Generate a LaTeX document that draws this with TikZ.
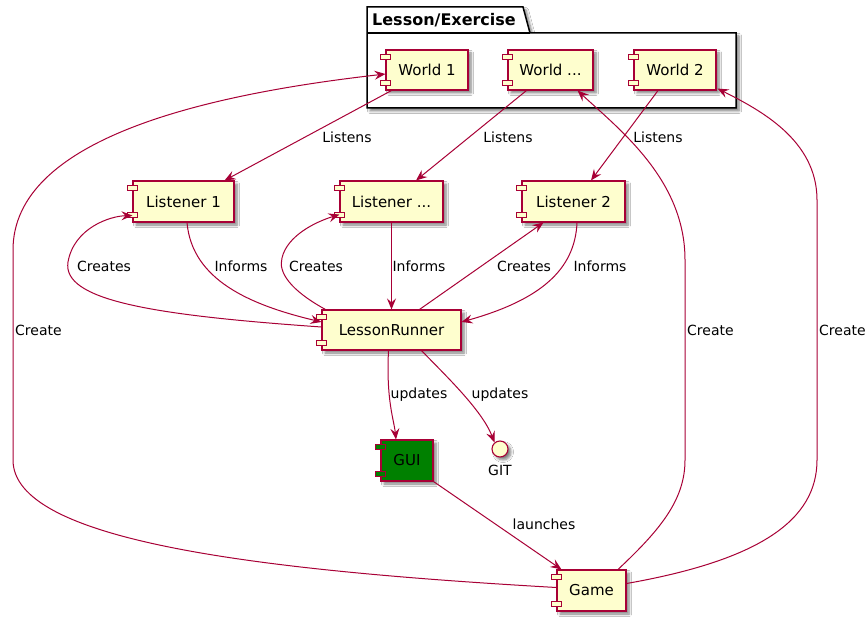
\documentclass[tikz,border=0pt]{standalone}
\usepackage{fontspec}
\setmainfont{DejaVu Sans}
\usetikzlibrary{arrows.meta,calc,shadows.blur}
\definecolor{umlred}{HTML}{A80036}
\definecolor{umlfill}{HTML}{FEFECE}
\definecolor{guigreen}{HTML}{008000}
\begin{document}
\begin{tikzpicture}[x=1pt,y=-1pt,
  softshadow/.style={blur shadow={shadow xshift=3pt,shadow yshift=-3pt,shadow blur steps=6,shadow blur radius=2.5pt,shadow opacity=50}},
  comp/.style={draw=umlred,fill=umlfill,line width=1.1pt,minimum height=40pt,inner sep=0pt,
    font=\fontsize{15}{18}\selectfont,softshadow},
  lug/.style={draw=umlred,line width=1.1pt},
  conn/.style={draw=umlred,line width=1pt,-{Stealth[length=11pt,width=9pt,inset=4pt]}},
  lbl/.style={font=\fontsize{14}{16}\selectfont,inner sep=0pt},
  pkg/.style={draw=black,line width=1.5pt,fill=white,softshadow}
]
\useasboundingbox (0,0) rectangle (866,617);
\fill[white] (0,0) rectangle (866,617);

% package frame with its tab
\path[pkg] (367,7) -- (523,7) -- (530,33) -- (736,33) -- (736,108) -- (367,108) -- cycle;
\draw[black,line width=1.5pt] (367,33) -- (530,33);
\node[font=\bfseries\fontsize{16}{19}\selectfont,anchor=base west,inner sep=0pt] (pkgtitle) at (372,25.5) {Lesson/Exercise};

% components
\node[comp,minimum width=82pt] (w1) at (427,70) {World 1};
\node[comp,minimum width=85pt] (wd) at (550.5,70) {World ...};
\node[comp,minimum width=82pt] (w2) at (675,70) {World 2};
\node[comp,minimum width=101pt,minimum height=41pt] (l1) at (183.5,201.5) {Listener 1};
\node[comp,minimum width=103pt,minimum height=41pt] (ld) at (391.5,201.5) {Listener ...};
\node[comp,minimum width=103pt,minimum height=41pt] (l2) at (573.5,201.5) {Listener 2};
\node[comp,minimum width=139pt] (lr) at (391.5,330) {LessonRunner};
\node[comp,minimum width=52pt,minimum height=41pt,fill=guigreen] (gui) at (407,460.5) {GUI};
\node[comp,minimum width=69pt,minimum height=41pt] (game) at (591.5,590.5) {Game};

% the two small tabs on the left side of every component
\foreach \n/\c in {w1/umlfill,wd/umlfill,w2/umlfill,l1/umlfill,ld/umlfill,l2/umlfill,lr/umlfill,gui/guigreen,game/umlfill}{
  \path[lug,fill=\c] ([xshift=-5pt,yshift=-5pt]\n.north west) rectangle ([xshift=5pt,yshift=-10pt]\n.north west);
  \path[lug,fill=\c] ([xshift=-5pt,yshift=5pt]\n.south west) rectangle ([xshift=5pt,yshift=10pt]\n.south west);
}

% interface
\node[circle,draw=umlred,fill=umlfill,line width=1.1pt,minimum size=16pt,inner sep=0pt,softshadow] (git) at (500,449) {};
\node[lbl] (gitlbl) at (500,470) {GIT};

% connectors
\draw[conn] ($(w1.south west)+(6,0)$) -- ($(l1.north east)+(-10,0)$);
\draw[conn] ($(wd.south west)+(19,0)$) -- ($(ld.north)+(24.5,0)$);
\draw[conn] ($(w2.south)+(-17,0)$) -- ($(l2.north)+(17.5,0)$);

\draw[conn] ($(l1.south)+(3.5,0)$) .. controls (192,280) and (250,305) .. ($(lr.west)+(0,-8)$);
\draw[conn] ($(lr.west)+(0,-3)$) .. controls (150,315) and (62,300) .. (68,262)
            .. controls (74,228) and (110,216) .. ($(l1.south west)+(0,-7)$);
\draw[conn] ($(lr.north west)+(4,0)$) .. controls (290,290) and (278,272) .. (282,258)
            .. controls (287,236) and (315,222) .. ($(ld.south west)+(0,-8)$);
\draw[conn] (ld.south) -- (lr.north);
\draw[conn] ($(lr.north)+(28,0)$) -- ($(l2.south west)+(22,0)$);
\draw[conn] ($(l2.south)+(3.5,0)$) .. controls (575,270) and (540,300) .. ($(lr.east)+(0,-8)$);

\draw[conn] ($(lr.south)+(-3,0)$) .. controls (386,400) and (394,420) .. ($(gui.north)+(-11,0)$);
\draw[conn] ($(lr.south)+(30,0)$) .. controls (445,375) and (482,410) .. (git.130);
\draw[conn] (gui.south east) -- ($(game.north west)+(5,0)$);

\draw[conn] ($(game.west)+(0,-3)$) .. controls (250,570) and (13,540) .. (13,460) -- (13,250)
            .. controls (13,140) and (200,95) .. ($(w1.west)+(0,4)$);
\draw[conn] ($(game.north)+(26.5,0)$) .. controls (660,530) and (685,500) .. (685,460) -- (685,260)
            .. controls (685,180) and (620,130) .. ($(wd.south east)+(-16,0)$);
\draw[conn] ($(game.east)+(0,-7)$) .. controls (760,560) and (817,520) .. (817,460) -- (817,200)
            .. controls (817,140) and (760,110) .. ($(w2.south east)+(1,-2)$);

% connector labels
\node[lbl] (t1) at (347,137) {Listens};
\node[lbl] (t2) at (508,137) {Listens};
\node[lbl] (t3) at (658,137) {Listens};
\node[lbl] (t4) at (104,266) {Creates};
\node[lbl] (t5) at (241,266) {Informs};
\node[lbl] (t6) at (316,266) {Creates};
\node[lbl] (t7) at (419,266) {Informs};
\node[lbl] (t8) at (524,266) {Creates};
\node[lbl] (t9) at (600,266) {Informs};
\node[lbl,anchor=west] (t10) at (15,330) {Create};
\node[lbl,anchor=west] (t11) at (687,330) {Create};
\node[lbl,anchor=west] (t12) at (819,330) {Create};
\node[lbl] (t13) at (419,395) {updates};
\node[lbl] (t14) at (500,395) {updates};
\node[lbl] (t15) at (544,524) {launches};
\end{tikzpicture}
\end{document}
